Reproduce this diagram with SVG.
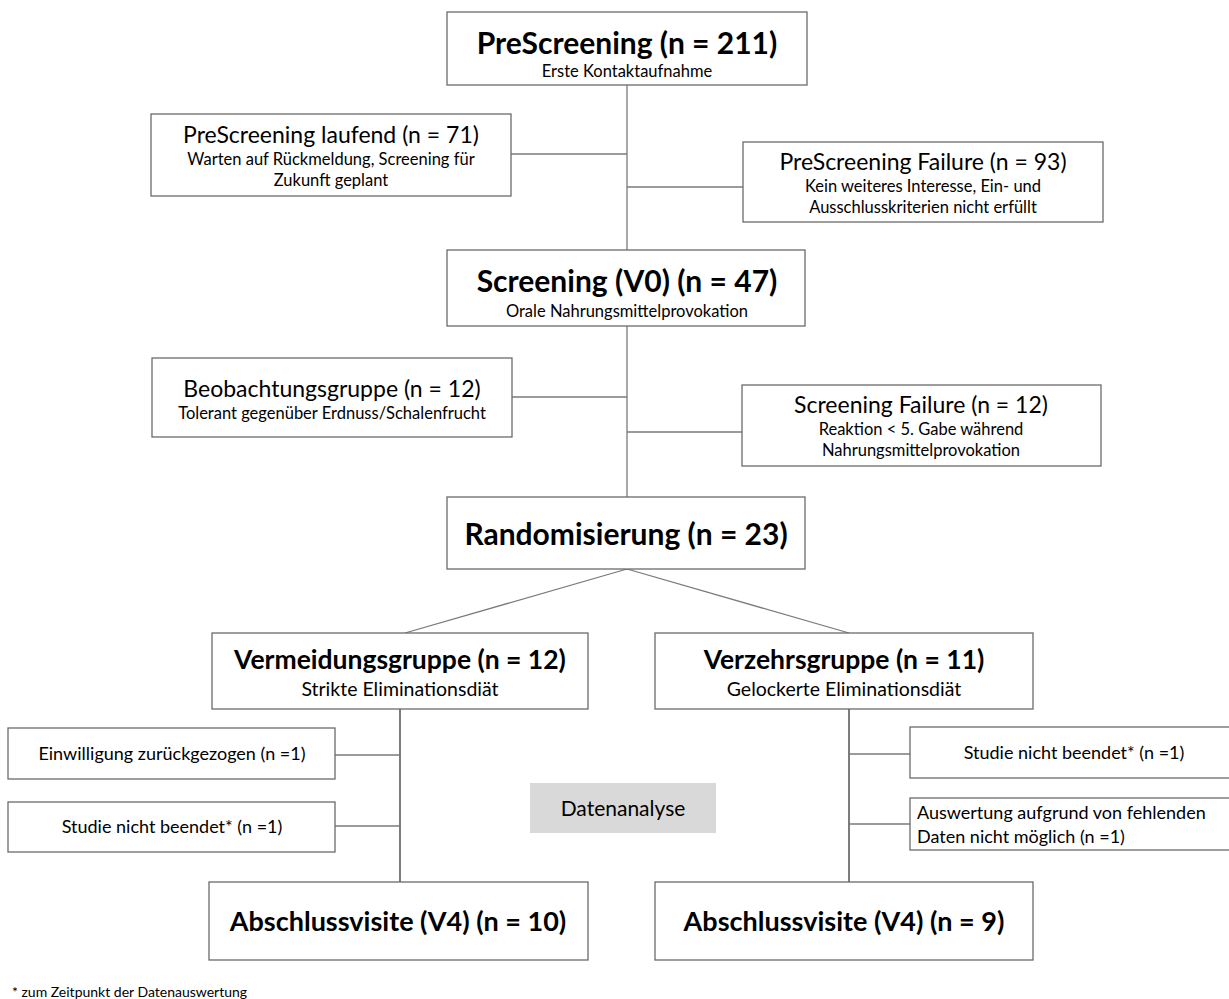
<svg xmlns="http://www.w3.org/2000/svg" width="1229" height="999" viewBox="0 0 1229 999">
<style>
.box{fill:#fff;stroke:#6b6b6b;stroke-width:1.3}
.gray{fill:#d9d9d9;stroke:none}
.ln{stroke:#7a7a7a;stroke-width:1.3;fill:none}
.dk{stroke:#111;stroke-width:1.1;fill:none}
text{font-family:Lato,"Open Sans","Liberation Sans",sans-serif;fill:#000;text-anchor:middle}
.h1{font-size:30px;font-weight:bold}
.h2{font-size:26.5px;font-weight:bold}
.h3{font-size:23px}
.s{font-size:16.5px}
.m{font-size:18px}
.d{font-size:19.5px}
</style>
<rect width="1229" height="999" fill="#fff"/>
<g id="connectors">
<line class="ln" x1="627" y1="85" x2="627" y2="250"/>
<line class="ln" x1="511" y1="154" x2="627" y2="154"/>
<line class="ln" x1="627" y1="187" x2="743" y2="187"/>
<line class="ln" x1="627" y1="326" x2="627" y2="497"/>
<line class="ln" x1="512" y1="397" x2="627" y2="397"/>
<line class="ln" x1="627" y1="432" x2="742" y2="432"/>
<line class="ln" x1="627" y1="569" x2="405" y2="633"/>
<line class="ln" x1="627" y1="569" x2="849" y2="633"/>
<line class="dk" x1="400" y1="709" x2="400" y2="882"/>
<line class="ln" x1="335" y1="755" x2="400" y2="755"/>
<line class="ln" x1="335" y1="826" x2="400" y2="826"/>
<line class="dk" x1="849" y1="709" x2="849" y2="882"/>
<line class="ln" x1="849" y1="754" x2="910" y2="754"/>
<line class="ln" x1="849" y1="824" x2="910" y2="824"/>
</g>
<g id="prescreening">
<rect class="box" x="447" y="12" width="360" height="73"/>
<text class="h1" x="627" y="54">PreScreening (n = 211)</text>
<text class="s" x="627" y="77">Erste Kontaktaufnahme</text>
</g>
<g id="prescreening-laufend">
<rect class="box" x="151" y="114" width="360" height="82"/>
<text class="h3" x="331" y="143">PreScreening laufend (n = 71)</text>
<text class="s" x="331" y="165">Warten auf Rückmeldung, Screening für</text>
<text class="s" x="331" y="186">Zukunft geplant</text>
</g>
<g id="prescreening-failure">
<rect class="box" x="743" y="142" width="360" height="80"/>
<text class="h3" x="923" y="170">PreScreening Failure (n = 93)</text>
<text class="s" x="923" y="192">Kein weiteres Interesse, Ein- und</text>
<text class="s" x="923" y="213">Ausschlusskriterien nicht erfüllt</text>
</g>
<g id="screening">
<rect class="box" x="447" y="250" width="358" height="76"/>
<text class="h1" x="627" y="292">Screening (V0) (n = 47)</text>
<text class="s" x="627" y="317">Orale Nahrungsmittelprovokation</text>
</g>
<g id="beobachtungsgruppe">
<rect class="box" x="152" y="358" width="360" height="79"/>
<text class="h3" x="332" y="397">Beobachtungsgruppe  (n = 12)</text>
<text class="s" x="332" y="419">Tolerant gegenüber Erdnuss/Schalenfrucht</text>
</g>
<g id="screening-failure">
<rect class="box" x="742" y="385" width="359" height="81"/>
<text class="h3" x="921" y="413">Screening Failure (n = 12)</text>
<text class="s" x="921" y="435">Reaktion &lt; 5. Gabe während</text>
<text class="s" x="921" y="456">Nahrungsmittelprovokation</text>
</g>
<g id="randomisierung">
<rect class="box" x="447" y="497" width="358" height="72"/>
<text class="h1" x="626" y="545">Randomisierung (n = 23)</text>
</g>
<g id="vermeidungsgruppe">
<rect class="box" x="212" y="633" width="376" height="76"/>
<text class="h2" x="400" y="669">Vermeidungsgruppe (n = 12)</text>
<text class="d" x="400" y="696">Strikte Eliminationsdiät</text>
</g>
<g id="verzehrsgruppe">
<rect class="box" x="655" y="633" width="378" height="76"/>
<text class="h2" x="844" y="669">Verzehrsgruppe (n = 11)</text>
<text class="d" x="844" y="696">Gelockerte Eliminationsdiät</text>
</g>
<g id="einwilligung">
<rect class="box" x="8" y="728" width="327" height="51"/>
<text class="m" x="172" y="760">Einwilligung zurückgezogen (n =1)</text>
</g>
<g id="studie-links">
<rect class="box" x="8" y="802" width="327" height="50"/>
<text class="m" x="172" y="833">Studie nicht beendet*  (n =1)</text>
</g>
<g id="datenanalyse">
<rect class="gray" x="530" y="783" width="186" height="50"/>
<text class="h3" x="623" y="816" style="font-size:21px">Datenanalyse</text>
</g>
<g id="studie-rechts">
<rect class="box" x="910" y="727" width="328" height="51"/>
<text class="m" x="1074" y="759">Studie nicht beendet*  (n =1)</text>
</g>
<g id="auswertung">
<rect class="box" x="910" y="798" width="328" height="52"/>
<text class="m" x="917" y="819" style="text-anchor:start">Auswertung aufgrund von fehlenden</text>
<text class="m" x="917" y="843" style="text-anchor:start">Daten nicht möglich (n =1)</text>
</g>
<g id="abschluss-links">
<rect class="box" x="209" y="882" width="379" height="78"/>
<text class="h2" x="398" y="931" style="font-size:27px">Abschlussvisite (V4) (n = 10)</text>
</g>
<g id="abschluss-rechts">
<rect class="box" x="655" y="882" width="378" height="78"/>
<text class="h2" x="844" y="931" style="font-size:27px">Abschlussvisite (V4) (n = 9)</text>
</g>
<g id="footnote">
<text x="12" y="997" style="font-size:14px;text-anchor:start">* zum Zeitpunkt der Datenauswertung</text>
</g>
</svg>
